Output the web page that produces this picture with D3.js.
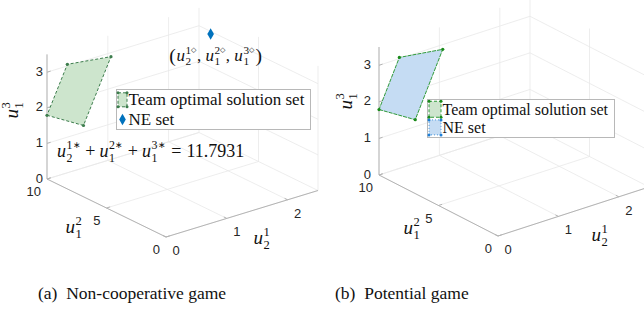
<!DOCTYPE html>
<html><head><meta charset="utf-8">
<script src="https://cdn.jsdelivr.net/npm/d3@7"></script>
<style>body{margin:0;background:#fff} svg{display:block}</style>
</head><body>
<svg id="c" width="644" height="309"></svg>
<script>
// ---------- data ----------
const u21Domain = [0, 2.5];
const u12Domain = [0, 10];
const u13Domain = [0, 3.5];
const u21Ticks = [0, 1, 2];
const u12Ticks = [0, 5, 10];
const u13Ticks = [0, 1, 2, 3];
// vertices of the team optimal solution set (plane u21+u12+u13 = 11.7931)
const teamU21 = [0, 0.6, 0.6, 0];
const teamU12 = [10, 10, 7.69, 8.29];
const teamU13 = [1.79, 1.19, 3.5, 3.5];
// NE point of the non-cooperative game
const neU21 = [2.3];
const neU12 = [8];
const neU13 = [3.2];
const teamSumLabel = "11.7931";
const legendLabels = ["Team optimal solution set", "NE set"];
const captions = ["(a)\u00a0\u00a0Non-cooperative game", "(b)\u00a0\u00a0Potential game"];

// ---------- style ----------
const SERIF = '"Liberation Serif"';
const SANS = '"Liberation Sans"';
const GRID = "#e9e9e9", AXIS = "#b4b4b4", TICKTXT = "#262626";
const GREEN_FILL = "#cde5cd", GREEN_EDGE = "#3d7d4d", GREEN_BRIGHT = "#2f9a3a";
const BLUE_FILL = "#c5dcf3", BLUE = "#0072BD", BLUE_DOT = "#1f7fd6";

const svg = d3.select("#c");

const sx = d3.scaleLinear().domain(u21Domain).range([0, 1]);
const sy = d3.scaleLinear().domain(u12Domain).range([0, 1]);
const sz = d3.scaleLinear().domain(u13Domain).range([0, 1]);

function makeProj(p) {
  return (x, y, z) => [
    p.O[0] + sx(x) * p.EX[0] + sy(y) * p.EY[0] + sz(z) * p.EZ[0],
    p.O[1] + sx(x) * p.EX[1] + sy(y) * p.EY[1] + sz(z) * p.EZ[1]
  ];
}

// measure helper
const meas = svg.append("text").style("font-family", SERIF).attr("x", -1000).attr("y", -1000);
function textW(str, fs, italic) {
  meas.attr("font-size", fs).style("font-style", italic ? "italic" : "normal").text(str);
  return meas.node().getComputedTextLength();
}

// math text renderer: one <text> with positioned tspans
function mathExpr(g, tokens, fs) {
  const pieces = [];
  let x = 0;
  tokens.forEach(tk => {
    if (tk.gap !== undefined) { x += tk.gap * fs; return; }
    if (tk.r !== undefined) {
      const f = fs * (tk.s || 1);
      pieces.push({ s: tk.r, x, y: tk.dy ? tk.dy * fs : 0, fs: f, it: false });
      x += textW(tk.r, f, false);
      return;
    }
    pieces.push({ s: tk.b, x, y: 0, fs, it: true });
    x += textW(tk.b, fs, true) + fs * 0.03;
    const sfs = fs * 0.66;
    let w = 0;
    if (tk.sup) {
      pieces.push({ s: tk.sup, x, y: -fs * 0.42, fs: sfs, it: false });
      let sw = textW(tk.sup, sfs, false);
      if (tk.mark) {
        const mfs = sfs * (tk.markScale || 0.7);
        pieces.push({ s: tk.mark, x: x + sw + fs * 0.02, y: -fs * (tk.markY || 0.47), fs: mfs, it: false });
        sw += textW(tk.mark, mfs, false) + fs * 0.02;
      }
      w = Math.max(w, sw);
    }
    if (tk.sub) { pieces.push({ s: tk.sub, x, y: fs * 0.26, fs: sfs, it: false }); w = Math.max(w, textW(tk.sub, sfs, false)); }
    x += w + fs * 0.03;
  });
  const grp = g.append("g");
  const t = grp.append("text").style("font-family", SERIF).attr("fill", "#111");
  pieces.forEach(pc => t.append("tspan").attr("x", pc.x).attr("y", pc.y)
    .attr("font-size", pc.fs).style("font-style", pc.it ? "italic" : "normal").text(pc.s));
  return { g: grp, width: x };
}
function placeMath(g, tokens, fs, cx, baseY) {
  const m = mathExpr(g, tokens, fs);
  m.g.attr("transform", `translate(${cx - m.width / 2},${baseY})`);
  return m;
}
function placeMathRot(g, tokens, fs, cx, cy) {
  const gg = g.append("g").attr("transform", `translate(${cx},${cy}) rotate(-90)`);
  const m = mathExpr(gg, tokens, fs);
  m.g.attr("transform", `translate(${-m.width / 2},${fs * 0.28})`);
}

const panels = [
  { O: [166, 237], EX: [152, -46.5], EY: [-119, -58], EZ: [0, -124.6], zTickOff: -4,
    xLab: [262, 244], yLab: [74, 233], zLab: [13, 110], legendFs: 17,
    legend: { x: 116, y: 89, w: 194, h: 40 }, potential: false, caption: [38, 299] },
  { O: [498, 236], EX: [151, -49], EY: [-119, -61], EZ: [0, -128], zTickOff: -8,
    xLab: [600, 241], yLab: [412, 234], zLab: [347, 101], legendFs: 16,
    legend: { x: 427, y: 99, w: 187, h: 38 }, potential: true, caption: [335, 299] }
];

panels.forEach((p, pi) => {
  const P = makeProj(p);
  const g = svg.append("g");
  const line = (a, b, col, w) => g.append("line")
    .attr("x1", a[0]).attr("y1", a[1]).attr("x2", b[0]).attr("y2", b[1])
    .attr("stroke", col).attr("stroke-width", w);
  const X1 = u21Domain[1], Y1 = u12Domain[1], Z1 = u13Domain[1];

  // grid
  u21Ticks.forEach(x => {
    line(P(x, 0, 0), P(x, Y1, 0), GRID, 0.8);
    line(P(x, Y1, 0), P(x, Y1, Z1), GRID, 0.8);
  });
  u12Ticks.forEach(y => {
    line(P(0, y, 0), P(X1, y, 0), GRID, 0.8);
    line(P(X1, y, 0), P(X1, y, Z1), GRID, 0.8);
  });
  u13Ticks.forEach(z => {
    line(P(0, Y1, z), P(X1, Y1, z), GRID, 0.8);
    line(P(X1, 0, z), P(X1, Y1, z), GRID, 0.8);
  });

  // axes
  line(P(0, 0, 0), P(X1, 0, 0), AXIS, 1);
  line(P(0, 0, 0), P(0, Y1, 0), AXIS, 1);
  line(P(0, Y1, 0), P(0, Y1, Z1), AXIS, 1);
  u21Ticks.forEach(x => line(P(x, 0, 0), P(x, 0.25, 0), AXIS, 1));
  u12Ticks.forEach(y => line(P(0, y, 0), P(0.06, y, 0), AXIS, 1));
  u13Ticks.forEach(z => line(P(0, Y1, z), P(0.06, Y1, z), AXIS, 1));

  // tick labels
  const tl = (pt, txt, anchor) => g.append("text").style("font-family", SANS).attr("x", pt[0]).attr("y", pt[1])
    .attr("text-anchor", anchor).attr("dominant-baseline", "central")
    .attr("font-size", 13).attr("fill", TICKTXT).text(txt);
  u21Ticks.forEach(x => { const q = P(x, 0, 0); tl([q[0] + 10, q[1] + 13.5], x, "middle"); });
  u12Ticks.forEach(y => { const q = P(0, y, 0); tl([q[0] - 6, q[1] + 12.5], y, "end"); });
  u13Ticks.forEach(z => { const q = P(0, Y1, z); tl([q[0] + p.zTickOff, q[1] - 1], z, "end"); });

  // axis labels
  placeMath(g, [{ b: "u", sup: "1", sub: "2" }], 19, p.xLab[0], p.xLab[1]);
  placeMath(g, [{ b: "u", sup: "2", sub: "1" }], 19, p.yLab[0], p.yLab[1]);
  placeMathRot(g, [{ b: "u", sup: "3", sub: "1" }], 19, p.zLab[0], p.zLab[1]);

  // team optimal set polygon
  const pts = teamU21.map((x, i) => P(x, teamU12[i], teamU13[i]));
  g.append("polygon").attr("points", pts.map(d => d.join(",")).join(" "))
    .attr("fill", p.potential ? BLUE_FILL : GREEN_FILL)
    .attr("stroke", p.potential ? GREEN_BRIGHT : GREEN_EDGE)
    .attr("stroke-width", 1)
    .attr("stroke-dasharray", p.potential ? "4,1" : "3,2");
  g.selectAll(null).data(pts).enter().append("circle")
    .attr("cx", d => d[0]).attr("cy", d => d[1]).attr("r", 1.6)
    .attr("fill", p.potential ? "#1a8a1a" : GREEN_EDGE);

  if (!p.potential) {
    // NE point
    const ne = neU21.map((x, i) => P(x, neU12[i], neU13[i]));
    g.selectAll(null).data(ne).enter().append("path")
      .attr("d", d3.symbol().type(d3.symbolDiamond).size(38))
      .attr("transform", d => `translate(${d[0]},${d[1]})`).attr("fill", BLUE);
    const dm = "\u25C7";
    placeMath(g, [{ r: "(", s: 1.15, dy: 0.04 }, { gap: 0.04 }, { b: "u", sup: "1", mark: dm, markScale: 0.62, markY: 0.5, sub: "2" }, { r: "," }, { gap: 0.25 },
      { b: "u", sup: "2", mark: dm, markScale: 0.62, markY: 0.5, sub: "1" }, { r: "," }, { gap: 0.25 },
      { b: "u", sup: "3", mark: dm, markScale: 0.62, markY: 0.5, sub: "1" }, { gap: 0.04 }, { r: ")", s: 1.15, dy: 0.04 }],
      17, ne[0][0] + 5, ne[0][1] + 27);
    // sum annotation
    const st = "\u2217";
    const m = mathExpr(g, [{ b: "u", sup: "1", mark: st, markScale: 0.75, markY: 0.5, sub: "2" }, { gap: 0.22 }, { r: "+" }, { gap: 0.22 },
      { b: "u", sup: "2", mark: st, markScale: 0.75, markY: 0.5, sub: "1" }, { gap: 0.22 }, { r: "+" }, { gap: 0.22 },
      { b: "u", sup: "3", mark: st, markScale: 0.75, markY: 0.5, sub: "1" }, { gap: 0.28 }, { r: "=" }, { gap: 0.28 }, { r: teamSumLabel }], 18);
    m.g.attr("transform", `translate(57,157)`);
  }

  // legend
  const L = p.legend;
  const lg = g.append("g");
  lg.append("rect").attr("x", L.x + 0.5).attr("y", L.y + 0.5).attr("width", L.w).attr("height", L.h)
    .attr("fill", "#fff").attr("stroke", "#b8b8b8").attr("stroke-width", 1);
  const rowY = [L.y + L.h * 0.27, L.y + L.h * 0.76];
  const ix0 = L.x + 2, ix1 = L.x + (p.potential ? 14 : 11);
  const r1t = rowY[0] - (p.potential ? 8 : 7), r1b = rowY[0] + (p.potential ? 8 : 7);
  lg.append("rect").attr("x", ix0).attr("y", r1t).attr("width", ix1 - ix0).attr("height", r1b - r1t)
    .attr("fill", GREEN_FILL).attr("stroke", p.potential ? GREEN_BRIGHT : GREEN_EDGE)
    .attr("stroke-width", 1).attr("stroke-dasharray", "3,2");
  [[ix0, r1t], [ix1, r1t], [ix1, r1b], [ix0, r1b]].forEach(c =>
    lg.append("circle").attr("cx", c[0]).attr("cy", c[1]).attr("r", 1.5).attr("fill", p.potential ? "#1a8a1a" : GREEN_EDGE));
  if (p.potential) {
    const r2t = rowY[1] - 8, r2b = rowY[1] + 7;
    lg.append("rect").attr("x", ix0).attr("y", r2t).attr("width", ix1 - ix0).attr("height", r2b - r2t)
      .attr("fill", BLUE_FILL).attr("stroke", BLUE_DOT).attr("stroke-width", 0.8).attr("stroke-dasharray", "1,2");
    [[ix0, r2t], [ix1, r2t], [ix1, r2b], [ix0, r2b]].forEach(c =>
      lg.append("circle").attr("cx", c[0]).attr("cy", c[1]).attr("r", 1.5).attr("fill", BLUE_DOT));
  } else {
    lg.append("path").attr("d", d3.symbol().type(d3.symbolDiamond).size(38))
      .attr("transform", `translate(${(ix0 + ix1) / 2},${rowY[1]})`).attr("fill", BLUE);
  }
  legendLabels.forEach((t, i) => lg.append("text").style("font-family", SERIF).attr("x", ix1 + 1.5).attr("y", rowY[i])
    .attr("dominant-baseline", "central").attr("font-size", p.legendFs)
    .attr("fill", "#111").text(t));

  // caption
  svg.append("text").style("font-family", SERIF).attr("x", p.caption[0]).attr("y", p.caption[1])
    .attr("font-size", 17.5).attr("fill", "#111").text(captions[pi]);
});
meas.remove();
</script>
</body></html>
